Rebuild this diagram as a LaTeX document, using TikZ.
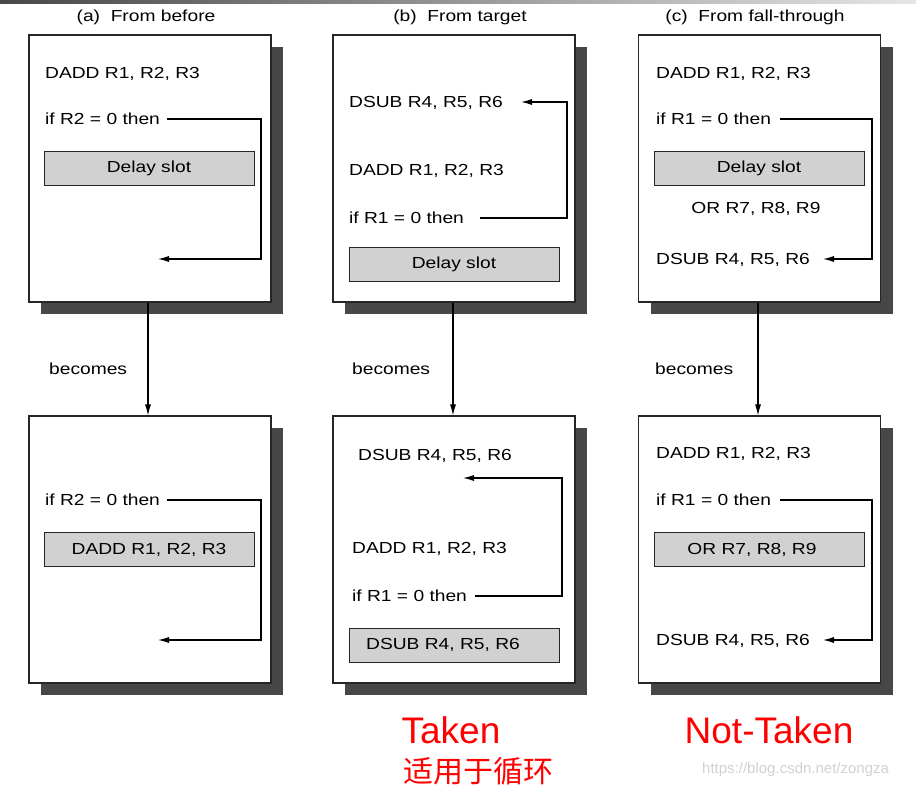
\documentclass[tikz,border=0pt]{standalone}
\usepackage{fontspec}
\setmainfont{Liberation Sans}[FakeStretch=1.2]
\newfontfamily\redfont{Liberation Sans}
\newfontfamily\cjk{Noto Sans CJK SC}
\usetikzlibrary{arrows.meta,shadows}
\tikzset{
  bigbox/.style={draw=black!85, line width=1.1pt, fill=white, minimum width=242pt, minimum height=267pt, inner sep=0pt,
    drop shadow={shadow xshift=12pt, shadow yshift=-12pt, fill=black!72, opacity=1}},
  slot/.style={draw=black!85, line width=1pt, fill=black!18, minimum width=210pt, minimum height=34pt, inner sep=0pt,
    font=\fontsize{16}{18}\selectfont, text=black},
  txt/.style={inner sep=0pt, anchor=west, text height=11.5pt, text depth=0pt, font=\fontsize{16}{18}\selectfont, text=black},
  ctxt/.style={txt, anchor=center},
  arr/.style={draw=black, line width=1.1pt, -{Latex[length=11pt,width=6pt]}},
  redtxt/.style={inner sep=0pt, text=red, font=\redfont\fontsize{37}{40}\selectfont}
}
\begin{document}
\begin{tikzpicture}[x=1pt,y=-1pt]
\useasboundingbox (0,0) rectangle (916,787);
\shade[left color=black!72, right color=black!10] (0,0) rectangle (916,3);

% headers
\node[ctxt] (ha) at (146,16) {(a)\ \ From before};
\node[ctxt] (hb) at (460,16) {(b)\ \ From target};
\node[ctxt] (hc) at (755,16) {(c)\ \ From fall-through};

% boxes
\node[bigbox] (A1) at (150,168.5) {};
\node[bigbox] (B1) at (454,168.5) {};
\node[bigbox] (C1) at (759.5,168.5) {};
\node[bigbox] (A2) at (150,549.5) {};
\node[bigbox] (B2) at (454,549.5) {};
\node[bigbox] (C2) at (759.5,549.5) {};

% becomes arrows
\draw[arr] ([xshift=-2pt]A1.south) -- ([xshift=-2pt]A2.north);
\draw[arr] ([xshift=-1pt]B1.south) -- ([xshift=-1pt]B2.north);
\draw[arr] ([xshift=-1.5pt]C1.south) -- ([xshift=-1.5pt]C2.north);
\node[txt] (ba) at (49,368.5) {becomes};
\node[txt] (bb) at (352,368.5) {becomes};
\node[txt] (bc) at (655,368.5) {becomes};

% ---- (a) top
\node[txt] (a1dadd) at (45,73) {DADD R1, R2, R3};
\node[txt] (a1if) at (45,119) {if R2 = 0 then};
\node[slot] (a1slot) at (149,168.5) {Delay slot};
\coordinate (a1s) at (167,119);
\coordinate (a1k) at (261,259);
\coordinate (a1e) at (158,259);
\draw[arr] (a1s) -| (a1k) -- (a1e);

% ---- (b) top
\node[txt] (b1dsub) at (349,102) {DSUB R4, R5, R6};
\node[txt] (b1dadd) at (349,170) {DADD R1, R2, R3};
\node[txt] (b1if) at (349,218) {if R1 = 0 then};
\node[slot] (b1slot) at (454,264.5) {Delay slot};
\coordinate (b1s) at (480,218);
\coordinate (b1k) at (567,102);
\coordinate (b1e) at (521,102);
\draw[arr] (b1s) -| (b1k) -- (b1e);

% ---- (c) top
\node[txt] (c1dadd) at (656,73) {DADD R1, R2, R3};
\node[txt] (c1if) at (656,119) {if R1 = 0 then};
\node[slot] (c1slot) at (759,168.5) {Delay slot};
\node[ctxt] (c1or) at (756,208) {OR R7, R8, R9};
\node[txt] (c1dsub) at (656,259) {DSUB R4, R5, R6};
\coordinate (c1s) at (780,119);
\coordinate (c1k) at (872,259);
\coordinate (c1e) at (823,259);
\draw[arr] (c1s) -| (c1k) -- (c1e);

% ---- (a) bottom
\node[txt] (a2if) at (45,500) {if R2 = 0 then};
\node[slot] (a2slot) at (149,549.5) {DADD R1, R2, R3};
\coordinate (a2s) at (167,500);
\coordinate (a2k) at (261,640);
\coordinate (a2e) at (158,640);
\draw[arr] (a2s) -| (a2k) -- (a2e);

% ---- (b) bottom
\node[txt] (b2dsub) at (358,455) {DSUB R4, R5, R6};
\node[txt] (b2dadd) at (352,548) {DADD R1, R2, R3};
\node[txt] (b2if) at (352,596) {if R1 = 0 then};
\node[slot] (b2slot) at (454,645) {DSUB R4, R5, R6\hspace*{22pt}};
\coordinate (b2s) at (475,596);
\coordinate (b2k) at (562,478);
\coordinate (b2e) at (463,478);
\draw[arr] (b2s) -| (b2k) -- (b2e);

% ---- (c) bottom
\node[txt] (c2dadd) at (656,453) {DADD R1, R2, R3};
\node[txt] (c2if) at (656,500) {if R1 = 0 then};
\node[slot] (c2slot) at (759,549.5) {OR R7, R8, R9\hspace*{14pt}};
\node[txt] (c2dsub) at (656,640) {DSUB R4, R5, R6};
\coordinate (c2s) at (780,500);
\coordinate (c2k) at (872,640);
\coordinate (c2e) at (823,640);
\draw[arr] (c2s) -| (c2k) -- (c2e);

% annotations
\node[redtxt, anchor=base] (taken) at (451,743) {Taken};
\node[redtxt, anchor=base] (nottaken) at (769,743) {Not-Taken};
\node[inner sep=0pt, text=red, font=\cjk\fontsize{30}{32}\selectfont] (loop) at (478.5,771) {适用于循环};
\node[inner sep=0pt, anchor=base west, text=black!18, font=\redfont\fontsize{15}{18}\selectfont] (wm) at (702,773) {https://blog.csdn.net/zongza};
\end{tikzpicture}
\end{document}
